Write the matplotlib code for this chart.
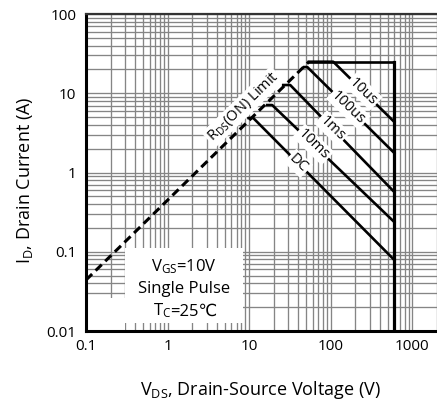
import matplotlib
matplotlib.use('Agg')
import matplotlib.pyplot as plt
import numpy as np
from matplotlib.patches import Rectangle

plt.rcParams['font.family'] = ['Open Sans', 'DejaVu Sans']
plt.rcParams['mathtext.fontset'] = 'custom'
plt.rcParams['mathtext.rm'] = 'Open Sans'
plt.rcParams['mathtext.it'] = 'Open Sans'

# RDS(on) limit (dashed)
rds_v = [0.1, 54]
rds_i = [0.044, 25]

# package / voltage limits
i_limit = 25
v_limit = 600
top_v = [54, 600]
vert_i = [0.01, 25]

# pulse lines: stub start, knee, end current at v_limit
pulse_names = ['10us', '100us', '1ms', '10ms', 'DC']
stub_v = [54, 47.3, 26.1, 16.6, 9.8]
knee_v = [107, 51.5, 31.8, 19.1, 11.2]
knee_i = [25, 21.4, 12.7, 7.1, 4.87]
end_i = [4.34, 1.76, 0.567, 0.237, 0.0787]
label_v = [250, 164, 104, 61, 40]

xticks = [0.1, 1, 10, 100, 1000]
xticklabels = ['0.1', '1', '10', '100', '1000']
yticks = [0.01, 0.1, 1, 10, 100]
yticklabels = ['0.01', '0.1', '1', '10', '100']


def loginterp(x, x0, x1, y0, y1):
    t = (np.log10(x) - np.log10(x0)) / (np.log10(x1) - np.log10(x0))
    return 10 ** (np.log10(y0) + t * (np.log10(y1) - np.log10(y0)))


fig = plt.figure(figsize=(4.37, 4.11), dpi=100)
ax = fig.add_axes([86 / 437, 80 / 411, 351 / 437, 317 / 411])
ax.set_xscale('log')
ax.set_yscale('log')
ax.set_xlim(0.1, 2000)
ax.set_ylim(0.01, 100)

ax.set_axisbelow(True)
ax.grid(True, which='both', color='#858585', lw=0.95)
ax.tick_params(which='both', length=0)
ax.set_xticks(xticks)
ax.set_xticklabels(xticklabels, fontsize=11)
ax.set_yticks(yticks)
ax.set_yticklabels(yticklabels, fontsize=11)
ax.tick_params(axis='x', pad=6)
ax.tick_params(axis='y', pad=7)

for s in ['left', 'bottom']:
    ax.spines[s].set_linewidth(2.2)
ax.spines['top'].set_linewidth(1.6)
ax.spines['top'].set_color('#333333')
ax.spines['right'].set_visible(False)

# white areas of the original sheet
ax.add_patch(Rectangle((0, 0), 0.111, 0.104, transform=ax.transAxes,
                       fc='white', ec='none', zorder=1))
ax.add_patch(Rectangle((0.111, 0.025), 0.336, 0.237, transform=ax.transAxes,
                       fc='white', ec='none', zorder=1))

# limits
ax.plot(rds_v, rds_i, color='black', lw=2.2, ls=(0, (2.8, 1.6)), zorder=3)
ax.plot(top_v, [i_limit, i_limit], color='black', lw=1.9, zorder=3)
ax.plot([v_limit, v_limit], vert_i, color='black', lw=2.3, zorder=3)

lbl_box = dict(boxstyle='square,pad=0.12', fc='white', ec='none')
for name, sv, kv, ki, ei, lv in zip(pulse_names, stub_v, knee_v, knee_i, end_i, label_v):
    ax.plot([sv, kv, v_limit], [ki, ki, ei], color='black', lw=1.9, zorder=3)
    li = loginterp(lv, kv, v_limit, ki, ei)
    ax.text(lv, li, name, rotation=-44, rotation_mode='anchor', ha='center',
            va='center', fontsize=10.5, bbox=lbl_box, zorder=4)

# RDS(on) label
rv = 8.4
ri = loginterp(rv, rds_v[0], rds_v[1], rds_i[0], rds_i[1])
ax.annotate(r'R$_{\mathrm{DS}}$(ON) Limit', (rv, ri), xytext=(0, 14),
            textcoords='offset points', rotation=44, rotation_mode='anchor',
            ha='center', va='center', fontsize=10.5, bbox=lbl_box, zorder=4)

# conditions
ax.text(0.279, 0.202, r'V$_{\mathrm{GS}}$=10V', transform=ax.transAxes,
        ha='center', va='center', fontsize=12, zorder=5)
ax.text(0.279, 0.132, 'Single Pulse', transform=ax.transAxes,
        ha='center', va='center', fontsize=12, zorder=5)
ax.text(0.243, 0.048, r'T$_{\mathrm{C}}$', transform=ax.transAxes,
        ha='right', va='baseline', fontsize=12, zorder=5)
ax.text(0.241, 0.048, '=25℃', transform=ax.transAxes,
        ha='left', va='baseline', fontsize=12, zorder=5,
        family=['Open Sans', 'DejaVu Sans'])

ax.text(0.496, -0.186, r'V$_{\mathrm{DS}}$, Drain-Source Voltage (V)',
        transform=ax.transAxes, ha='center', va='center', fontsize=13)
ax.text(-0.174, 0.476, r'I$_{\mathrm{D}}$, Drain Current (A)',
        transform=ax.transAxes, ha='center', va='center', fontsize=13,
        rotation=90)

fig.savefig('out.png', dpi=100)
